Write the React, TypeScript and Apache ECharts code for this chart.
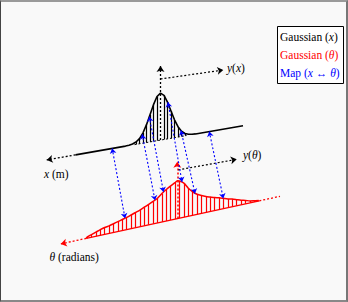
import React, { useEffect, useRef } from 'react';
import * as echarts from 'echarts';

// ---- Data ----
// Gaussian in x: positions (units of sigma) and relative heights
const xCurvePos = [-8.5, -3.5, -3.15, -2.8, -2.45, -2.1, -1.75, -1.4, -1.05, -0.7, -0.35, 0, 0.35, 0.7, 1.05, 1.4, 1.75, 2.1, 2.45, 2.8, 3.15, 3.5, 8.25];
const xCurveVal = [0, 0.002, 0.007, 0.02, 0.05, 0.11, 0.22, 0.38, 0.58, 0.78, 0.94, 1, 0.94, 0.78, 0.58, 0.38, 0.22, 0.11, 0.05, 0.02, 0.007, 0.002, 0];

// Gaussian mapped to theta: positions and relative heights
const thetaPos = [-9.1, -9.02, -8.58, -8.14, -7.7, -7.26, -6.82, -6.38, -5.94, -5.5, -5.06, -4.62, -4.18, -3.74, -3.3, -2.86, -2.42, -1.98, -1.54, -1.1, -0.66, -0.22, 0, 0.22, 0.66, 1.1, 1.54, 1.98, 2.42, 2.86, 3.3, 3.74, 4.18, 4.62, 5.06, 5.5, 5.94, 6.38, 6.82, 7.26, 7.7, 8.14, 8.2];
const thetaVal = [0, 0.03, 0.07, 0.11, 0.15, 0.18, 0.2, 0.23, 0.26, 0.29, 0.32, 0.36, 0.4, 0.44, 0.49, 0.54, 0.59, 0.65, 0.75, 0.83, 0.9, 0.96, 1.0, 0.98, 0.9, 0.74, 0.62, 0.53, 0.47, 0.42, 0.38, 0.34, 0.31, 0.27, 0.23, 0.2, 0.16, 0.12, 0.09, 0.05, 0.03, 0.01, 0];

// Map x <-> theta (start on x curve, end on theta curve)
const mapX = [-4.83, -1.83, -1.12, 0.75, 2.05, 4.88];
const mapXVal = [0, 0.19, 0.54, 0.78, 0.13, 0];
const mapTheta = [-5.23, -2.23, -1.38, 0.47, 1.77, 4.6];
const mapThetaVal = [0.31, 0.61, 0.78, 0.94, 0.56, 0.27];

const legendItems = ['Gaussian (x)', 'Gaussian (θ)', 'Map (x ↔ θ)'];

// ---- Layout (oblique projection of the two planes) ----
const OX = [160.5, 140.1], UX = [10, -1.74], HX = 47;
const OT = [177.3, 218.6], UT = [10, -2.17], HT = 37.9;
const px = (s: number, h: number) => [OX[0] + UX[0] * s, OX[1] + UX[1] * s - HX * h];
const pt = (s: number, h: number) => [OT[0] + UT[0] * s, OT[1] + UT[1] * s - HT * h];

const FONT = 'Liberation Serif';
const DOT: number[] = [2, 2];

export default function App() {
  const ref = useRef<HTMLDivElement>(null);
  useEffect(() => {
    if (!ref.current) return;
    const chart = echarts.init(ref.current, undefined, { renderer: 'svg' });

    const seg = (a: number[], b: number[]) => ({ coords: [a, b] });
    const hatchX = xCurvePos
      .map((s, i) => ({ s, v: xCurveVal[i] }))
      .filter((d) => d.s !== 0 && Math.abs(d.s) <= 2.45)
      .map((d) => seg(px(d.s, 0), px(d.s, d.v)));
    const hatchT = thetaPos
      .map((s, i) => ({ s, v: thetaVal[i] }))
      .filter((d) => d.s !== 0 && d.v > 0)
      .map((d) => seg(pt(d.s, 0), pt(d.s, d.v)));
    const maps = mapX.map((s, i) => seg(px(s, mapXVal[i]), pt(mapTheta[i], mapThetaVal[i])));

    const arrowLines = (data: any[], color: string, width: number, type: any, symbol: any, size = 6, z = 4) => ({
      type: 'lines',
      coordinateSystem: 'cartesian2d',
      data,
      symbol,
      symbolSize: size,
      silent: true,
      z,
      lineStyle: { color, width, type, opacity: 1, curveness: 0 },
    });

    const rich = (color: string) => ({
      i: { fontFamily: FONT, fontStyle: 'italic', fontSize: 11.5, color },
      r: { fontFamily: FONT, fontSize: 11.5, color },
    });

    const label = (x: number, y: number, text: string, color = '#000') => ({
      type: 'text',
      x,
      y,
      silent: true,
      style: { text, rich: rich(color), verticalAlign: 'middle', align: 'left', fill: color, fontFamily: FONT, fontSize: 11.5 },
    });

    chart.setOption({
      animation: false,
      backgroundColor: 'transparent',
      grid: { left: 0, right: 0, top: 0, bottom: 0 },
      xAxis: { type: 'value', min: 0, max: 348, show: false },
      yAxis: { type: 'value', min: 0, max: 302, inverse: true, show: false },
      series: [
        // upper plane: x
        {
          type: 'line',
          name: legendItems[0],
          data: xCurvePos.map((s, i) => px(s, xCurveVal[i])),
          showSymbol: false,
          silent: true,
          z: 5,
          lineStyle: { color: '#000', width: 1.6 },
        },
        arrowLines(hatchX, '#000', 1.2, 'solid', 'none', 0, 3),
        arrowLines([seg(px(-2.6, 0), px(2.6, 0))], '#000', 1, DOT, 'none', 0, 3),
        arrowLines([seg(px(-8.5, 0), px(-11.38, 0))], '#000', 1.3, DOT, ['none', 'arrow'], 6),
        arrowLines([seg(px(0, 0), px(0, 1.574))], '#000', 1.3, DOT, ['none', 'arrow'], 6),
        arrowLines([seg(px(0, 1.3), px(6.28, 1.259))], '#000', 1.2, DOT, ['none', 'arrow'], 6),
        // lower plane: theta
        {
          type: 'line',
          name: legendItems[1],
          data: thetaPos.map((s, i) => pt(s, thetaVal[i])),
          showSymbol: false,
          smooth: 0.2,
          silent: true,
          z: 5,
          lineStyle: { color: '#ff0000', width: 1.5 },
        },
        arrowLines([seg(pt(-9.1, 0), pt(8.2, 0))], '#ff0000', 1.3, 'solid', 'none', 0, 3),
        arrowLines(hatchT, '#ff0000', 1.2, 'solid', 'none', 0, 3),
        arrowLines([seg(pt(-9.1, 0), pt(-11.66, 0))], '#ff0000', 1.3, DOT, ['none', 'arrow'], 6),
        arrowLines([seg(pt(8.2, 0), pt(10.27, 0))], '#ff0000', 1.3, DOT, 'none', 0),
        arrowLines([seg(pt(0, 0), pt(0, 1.5))], '#ff0000', 1.5, DOT, ['none', 'arrow'], 6),
        arrowLines([seg(pt(0.1, 1.28), pt(5.94, 1.224))], '#000', 1.2, DOT, ['none', 'arrow'], 6),
        // map
        { ...arrowLines(maps, '#0000ff', 1.1, DOT, ['arrow', 'arrow'], 5, 6), name: legendItems[2] },
      ],
      graphic: [
        label(227, 68, '{i|y}{r|(}{i|x}{r|)}'),
        label(243, 154.5, '{i|y}{r|(}{i|θ}{r|)}'),
        label(44, 173.5, '{i|x}{r| (m)}'),
        label(49.5, 256.5, '{i|θ}{r| (radians)}'),
        {
          type: 'rect',
          silent: true,
          shape: { x: 277.5, y: 26.5, width: 66, height: 57 },
          style: { fill: '#fff', stroke: '#000', lineWidth: 1 },
        },
        label(280, 37, '{r|Gaussian (}{i|x}{r|)}', '#000'),
        label(280, 54.5, '{r|Gaussian (}{i|θ}{r|)}', '#ff0000'),
        label(280, 72.5, '{r|Map (}{i|x}{r| ↔ }{i|θ}{r|)}', '#0000ff'),
      ],
    });
    return () => chart.dispose();
  }, []);

  return (
    <div style={{ position: 'fixed', left: 0, top: 0, width: 348, height: 302, background: '#f9f9f9' }}>
      <div
        style={{
          position: 'absolute', left: 0, top: 0, width: 348, height: 302, boxSizing: 'border-box',
          borderTop: '2px solid #9a9a9a', borderLeft: '1px solid #444', borderRight: '2px solid #777', borderBottom: '2px solid #888',
        }}
      />
      <div ref={ref} style={{ position: 'absolute', left: 0, top: 0, width: 348, height: 302 }} />
    </div>
  );
}
